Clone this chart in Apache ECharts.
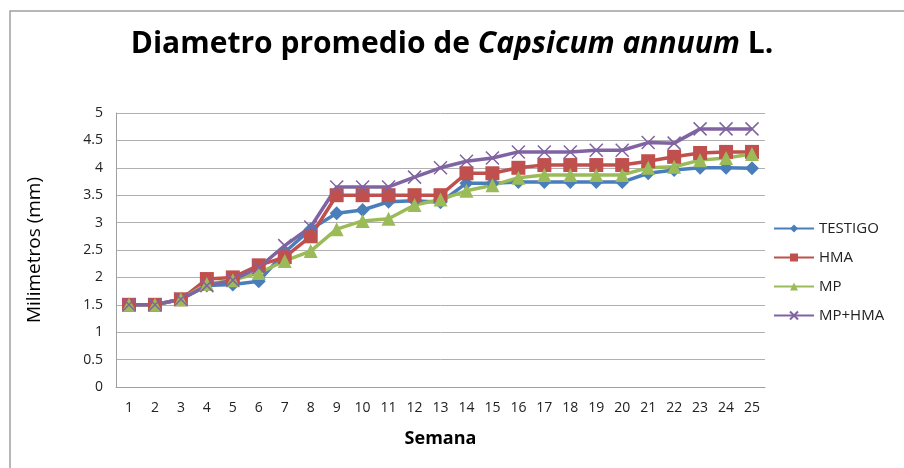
<!DOCTYPE html>
<html>
<head>
<meta charset="utf-8">
<script src="https://cdn.jsdelivr.net/npm/echarts@6/dist/echarts.min.js"></script>
<style>
  html, body { margin: 0; padding: 0; background: #fff; }
  #main { width: 904px; height: 468px; }
</style>
</head>
<body>
<div id="main"></div>
<script>
// semanas 1..25
var semanas = ['1','2','3','4','5','6','7','8','9','10','11','12','13','14','15','16','17','18','19','20','21','22','23','24','25'];

var testigo = [1.5,1.5,1.6,1.85,1.87,1.93,2.46,2.88,3.17,3.23,3.38,3.4,3.37,3.72,3.72,3.74,3.74,3.74,3.74,3.74,3.9,3.96,4.0,4.0,3.99];
var hma     = [1.5,1.5,1.6,1.97,2.0,2.22,2.37,2.75,3.5,3.5,3.5,3.5,3.5,3.9,3.9,4.0,4.05,4.05,4.05,4.05,4.12,4.2,4.27,4.29,4.29];
var mp      = [1.5,1.5,1.6,1.88,1.95,2.08,2.3,2.48,2.88,3.03,3.07,3.32,3.42,3.58,3.68,3.82,3.87,3.87,3.87,3.87,4.0,4.02,4.14,4.18,4.25];
var mpHma   = [1.5,1.5,1.6,1.85,1.95,2.18,2.58,2.92,3.65,3.65,3.65,3.83,4.0,4.12,4.18,4.29,4.29,4.29,4.32,4.32,4.46,4.45,4.71,4.71,4.71];

var fuente = '"Open Sans", "Liberation Sans", sans-serif';

var dom = document.getElementById('main');
var myChart = echarts.init(dom);

function serie(nombre, datos, color, simbolo, tam) {
    return {
        name: nombre,
        type: 'line',
        data: datos,
        symbol: simbolo,
        symbolSize: tam,
        lineStyle: { color: color, width: 3.5 },
        itemStyle: { color: color },
        animation: false
    };
}

var cruz = serie('MP+HMA', mpHma, '#8064A2', 'path://M0,0L10,10M10,0L0,10', 13);
cruz.itemStyle = { color: 'rgba(0,0,0,0)', borderColor: '#8064A2', borderWidth: 1.5 };

var option = {
    backgroundColor: '#fff',
    title: {
        text: 'Diametro promedio de {i|Capsicum annuum} L.',
        left: 'center',
        top: 24,
        textStyle: {
            fontFamily: fuente,
            fontSize: 30,
            fontWeight: 'bold',
            color: '#000',
            rich: {
                i: { fontFamily: fuente, fontSize: 30, fontWeight: 'bold', fontStyle: 'italic', color: '#000' }
            }
        }
    },
    graphic: [{
        type: 'rect',
        shape: { x: 10, y: 11, width: 1000, height: 600 },
        style: { fill: 'none', stroke: '#a0a0a0', lineWidth: 1.5 },
        silent: true
    }],
    legend: {
        orient: 'vertical',
        left: 768,
        top: 216,
        itemWidth: 40,
        itemHeight: 10,
        itemGap: 14,
        textStyle: { fontFamily: fuente, fontSize: 15, color: '#222' },
        data: ['TESTIGO', 'HMA', 'MP', 'MP+HMA']
    },
    grid: { left: 116, right: 139, top: 113, bottom: 81 },
    xAxis: {
        type: 'category',
        data: semanas,
        boundaryGap: true,
        name: 'Semana',
        nameLocation: 'middle',
        nameGap: 43,
        nameTextStyle: { fontFamily: fuente, fontSize: 18, fontWeight: 'bold', color: '#000' },
        axisLine: { lineStyle: { color: '#a0a0a0', width: 1 } },
        axisTick: { show: false },
        axisLabel: { fontFamily: fuente, fontSize: 14, color: '#222', margin: 14, interval: 0 }
    },
    yAxis: {
        type: 'value',
        min: 0,
        max: 5,
        interval: 0.5,
        name: 'Milimetros (mm)',
        nameLocation: 'middle',
        nameGap: 72,
        nameTextStyle: { fontFamily: fuente, fontSize: 19, color: '#000' },
        axisLine: { show: true, lineStyle: { color: '#a0a0a0', width: 1 } },
        axisTick: { show: false },
        axisLabel: { fontFamily: fuente, fontSize: 14, color: '#222', margin: 13 },
        splitLine: { lineStyle: { color: '#b0b0b0', width: 1 } }
    },
    series: [
        serie('TESTIGO', testigo, '#4A7EBB', 'diamond', 14),
        serie('HMA', hma, '#C0504D', 'rect', 14),
        serie('MP', mp, '#9BBB59', 'triangle', 14),
        cruz
    ]
};

if (option && typeof option === "object") {
    myChart.setOption(option, true);
}
</script>
</body>
</html>
